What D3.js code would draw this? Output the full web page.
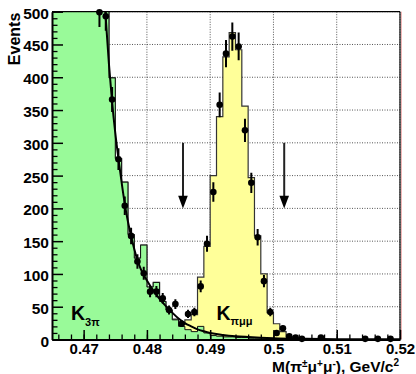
<!DOCTYPE html>
<html><head><meta charset="utf-8">
<script src="https://cdn.jsdelivr.net/npm/d3@7"></script>
<style>
html,body{margin:0;padding:0;background:#fff;}
svg{display:block;font-family:"Liberation Sans",Arial,Helvetica,sans-serif;font-weight:bold;}
</style></head><body>
<svg id="chart" width="416" height="374"></svg>
<script>
// Bin edges of the invariant-mass histogram, GeV/c^2
const massEdges = [0.465,0.466,0.467,0.468,0.469,0.470,0.471,0.472,0.473,0.474,
  0.475,0.476,0.477,0.478,0.479,0.480,0.481,0.482,0.483,0.484,
  0.485,0.486,0.487,0.488,0.489,0.490,0.491,0.492,0.493,0.494,
  0.495,0.496,0.497,0.498,0.499,0.500,0.501,0.502,0.503,0.504,
  0.505,0.506,0.507,0.508,0.509,0.510,0.511,0.512,0.513,0.514,
  0.515,0.516,0.517,0.518,0.519,0.520];

// Simulated K -> 3pi background, events per bin
const k3piMC = [4800,3600,2700,2000,1500,1120,840,640,505,399,
  276,240,160,124,144,80,87,58,45,30,
  20,15,12,20,10,6,5,4,4,3,
  3,2,2,2,1,1,1,0,0,0,
  0,0,0,0,0,0,0,0,0,0,
  0,0,0,0,0];

// Simulated K -> pi mu mu signal, events per bin (stacked on the background)
const kpimumuMC = [0,0,0,0,0,0,0,0,0,0,
  0,0,0,0,0,0,0,0,0,1,
  3,15,26,75,132,244,335,427,464,439,
  353,245,156,98,40,23,11,4,2,0,
  0,0,0,0,0,0,0,0,0,0,
  0,0,0,0,0];

// Observed events per bin (null: above the displayed range)
const dataCounts = [null,null,null,null,null,null,null,499,493,366,
  275,204,158,119,101,73,73,63,45,54,
  24,39,42,81,146,225,358,436,462,447,
  319,239,156,89,42,10,17,5,3,1,
  0,0,3,0,0,0,0,0,0,1,
  0,1,0,1,0];

// Background fit curve
const fitMass = [0.4725,0.4730,0.4735,0.4740,0.4745,0.4750,0.4755,0.4760,0.4765,0.4770,
  0.4775,0.4780,0.4785,0.4790,0.4800,0.4810,0.4820,0.4830,0.4840,0.4850,
  0.4860,0.4870,0.4880,0.4890,0.4900,0.4920,0.4940,0.4960,0.4980,0.5000,
  0.5050,0.5100,0.5200];
const fitCounts = [650,560,490,420,362,315,276,240,207,180,
  158,138,121,108,90,75,62,51,41,32,
  25,20,15.5,12.5,10,7,5,3.8,2.8,2,
  1,0.5,0.2];

// Signal window boundaries and arrow extent (events)
const signalWindow = [0.4857, 0.5017];
const arrowSpan = [300, 200];

const xTicks = [0.47,0.48,0.49,0.50,0.51,0.52];
const xTickLabels = ["0.47","0.48","0.49","0.5","0.51","0.52"];
const yTicks = [0,50,100,150,200,250,300,350,400,450,500];
const yTickLabels = ["0","50","100","150","200","250","300","350","400","450","500"];

const svg = d3.select("#chart");
const x = d3.scaleLinear().domain([0.465, 0.52]).range([52, 400]);
const y = d3.scaleLinear().domain([0, 500]).range([339.5, 11.7]);
const [x0, x1] = x.range();
const [yb, yt] = y.range();

svg.append("defs").append("clipPath").attr("id", "plot")
  .append("rect").attr("x", x0).attr("y", yt).attr("width", x1 - x0).attr("height", yb - yt);

// grid
const grid = svg.append("g").attr("stroke", "#555").attr("stroke-width", 1).attr("stroke-dasharray", "1,1.5");
grid.selectAll(".gx").data(xTicks).join("line")
  .attr("x1", d => x(d)).attr("x2", d => x(d)).attr("y1", yt).attr("y2", yb);
grid.selectAll(".gy").data(yTicks).join("line")
  .attr("x1", x0).attr("x2", x1).attr("y1", d => y(d)).attr("y2", d => y(d));

const plot = svg.append("g").attr("clip-path", "url(#plot)");

function stepPoints(vals) {
  const pts = [[massEdges[0], 0]];
  vals.forEach((v, i) => { pts.push([massEdges[i], v]); pts.push([massEdges[i + 1], v]); });
  pts.push([massEdges[massEdges.length - 1], 0]);
  return pts;
}
const stepLine = d3.line().x(d => x(d[0])).y(d => y(d[1]));
const total = k3piMC.map((v, i) => v + kpimumuMC[i]);

plot.append("path").attr("d", stepLine(stepPoints(total)) + "Z")
  .attr("fill", "#ffff99").attr("stroke", "#333").attr("stroke-width", 1.2);
plot.append("path").attr("d", stepLine(stepPoints(k3piMC)) + "Z")
  .attr("fill", "#99fa99").attr("stroke", "#111").attr("stroke-width", 1);

// fit
const fitLine = d3.line().curve(d3.curveMonotoneX).x((d, i) => x(fitMass[i])).y(d => y(d));
plot.append("path").attr("d", fitLine(fitCounts))
  .attr("fill", "none").attr("stroke", "#000").attr("stroke-width", 2);

// signal window arrows
const arrows = svg.append("g");
signalWindow.forEach(m => {
  const ax = x(m), tip = y(arrowSpan[1]);
  arrows.append("line").attr("x1", ax).attr("x2", ax).attr("y1", y(arrowSpan[0])).attr("y2", tip - 10)
    .attr("stroke", "#222").attr("stroke-width", 2);
  arrows.append("path").attr("d", `M${ax - 4.8},${tip - 12.6}L${ax + 4.8},${tip - 12.6}L${ax},${tip}Z`)
    .attr("fill", "#000");
});

// data points with Poisson errors
const pts = dataCounts.map((v, i) => ({ m: (massEdges[i] + massEdges[i + 1]) / 2, v }))
  .filter(d => d.v !== null && d.v > 0);
plot.selectAll(".err").data(pts).join("line")
  .attr("x1", d => x(d.m)).attr("x2", d => x(d.m))
  .attr("y1", d => y(d.v - Math.sqrt(d.v))).attr("y2", d => y(d.v + Math.sqrt(d.v)))
  .attr("stroke", "#000").attr("stroke-width", 2);
svg.selectAll(".pt").data(pts).join("circle")
  .attr("cx", d => x(d.m)).attr("cy", d => y(d.v)).attr("r", 3.3).attr("fill", "#000");

// frame
svg.append("line").attr("x1", x0).attr("x2", x1).attr("y1", yt).attr("y2", yt).attr("stroke", "#000").attr("stroke-width", 1.2);
svg.append("line").attr("x1", x1).attr("x2", x1).attr("y1", yt).attr("y2", yb).attr("stroke", "#000").attr("stroke-width", 1.2);
svg.append("line").attr("x1", x1 + 1.5).attr("x2", x1 + 1.5).attr("y1", yt).attr("y2", yb).attr("stroke", "#f3b8b8").attr("stroke-width", 1);

// axes
function styleAxis(g, size) {
  g.attr("font-family", null).attr("font-size", size);
  g.select(".domain").attr("stroke-width", 2);
  g.selectAll(".tick line").attr("stroke-width", 1.5);
  g.selectAll(".tick text").attr("fill", "#000");
}
const yMinor = d3.range(0, 501, 10).filter(d => d % 50 !== 0);
const xMinor = d3.range(0.466, 0.5195, 0.002);

svg.append("g").attr("transform", `translate(${x0},0)`)
  .call(d3.axisLeft(y).tickValues(yMinor).tickSize(-5.5).tickSizeOuter(0).tickFormat(""))
  .call(g => { g.select(".domain").remove(); g.selectAll("line").attr("stroke-width", 1.3); });
svg.append("g").attr("transform", `translate(0,${yb})`)
  .call(d3.axisBottom(x).tickValues(xMinor).tickSize(-5).tickSizeOuter(0).tickFormat(""))
  .call(g => { g.select(".domain").remove(); g.selectAll("line").attr("stroke-width", 1.3); });

svg.append("g").attr("transform", `translate(${x0},0)`)
  .call(d3.axisLeft(y).tickValues(yTicks).tickFormat((d, i) => yTickLabels[i]).tickSize(-11).tickSizeOuter(0).tickPadding(3))
  .call(g => { styleAxis(g, 15.5); g.selectAll(".tick text").attr("dy", "0.42em"); });
svg.append("g").attr("transform", `translate(0,${yb})`)
  .call(d3.axisBottom(x).tickValues(xTicks).tickFormat((d, i) => xTickLabels[i]).tickSize(-9.5).tickSizeOuter(0).tickPadding(4))
  .call(g => styleAxis(g, 15));

// axis titles
svg.append("text").attr("transform", `translate(20,${yt + 1}) rotate(-90)`)
  .attr("text-anchor", "end").attr("font-size", 16).text("Events");

const xt = svg.append("text").attr("x", x1 - 1).attr("y", 372).attr("text-anchor", "end").attr("font-size", 15.5);
xt.append("tspan").text("M(π");
xt.append("tspan").attr("font-size", 10).attr("dy", -5).text("±");
xt.append("tspan").attr("dy", 5).text("μ");
xt.append("tspan").attr("font-size", 10).attr("dy", -5).text("+");
xt.append("tspan").attr("dy", 5).text("μ");
xt.append("tspan").attr("font-size", 10).attr("dy", -5).text("-");
xt.append("tspan").attr("dy", 5).text("), GeV/c");
xt.append("tspan").attr("font-size", 10).attr("dy", -6).text("2");

// component labels
const l1 = svg.append("text").attr("x", x(0.468)).attr("y", y(29)).attr("font-size", 19.5).attr("fill", "#000");
l1.append("tspan").text("K");
l1.append("tspan").attr("font-size", 11).attr("dy", 6).text("3π");
const l2 = svg.append("text").attr("x", x(0.4910)).attr("y", y(30)).attr("font-size", 19.5).attr("fill", "#000");
l2.append("tspan").text("K");
l2.append("tspan").attr("font-size", 11).attr("dy", 5).text("πμμ");
</script>
</body></html>
